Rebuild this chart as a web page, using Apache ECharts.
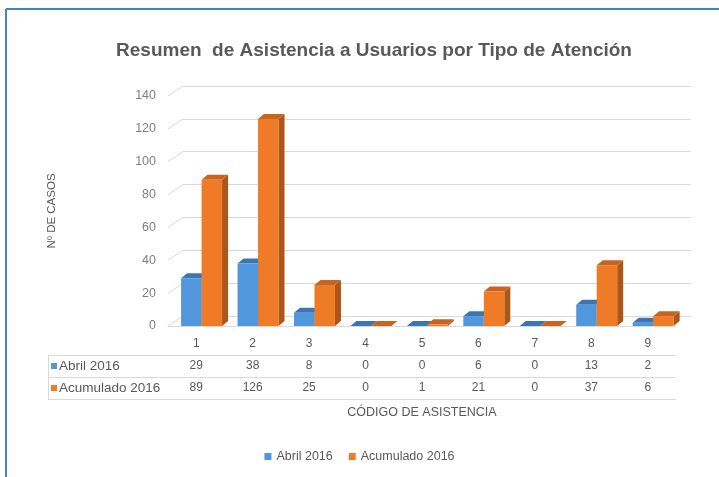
<!DOCTYPE html>
<html>
<head>
<meta charset="utf-8">
<script src="https://cdn.jsdelivr.net/npm/echarts@6/dist/echarts.min.js"></script>
<style>
  html, body { margin: 0; padding: 0; background: #fff; }
  #chart { width: 719px; height: 477px; }
</style>
</head>
<body>
<div id="chart"></div>
<script>
// datos
const categorias = ['1', '2', '3', '4', '5', '6', '7', '8', '9'];
const abril2016 = [29, 38, 8, 0, 0, 6, 0, 13, 2];
const acumulado2016 = [89, 126, 25, 0, 1, 21, 0, 37, 6];
const ticksY = [0, 20, 40, 60, 80, 100, 120, 140];

const txt = '#595959';
const lineas = '#d9d9d9';
const font = 'Liberation Sans';

// layout
const gLeft = 168, gRightPx = 676, gTop = 96, gBottomPx = 326;
const depthX = 15, depthY = 10;      // pared del fondo
const barDx = 6, barDy = 5;          // profundidad de las barras
const rowH = 22;
const tableBottom = gBottomPx + 7 + rowH * 3;

const dom = document.getElementById('chart');
const myChart = echarts.init(dom);

function bar3d(serieIdx, front, top, side) {
  return function (params, api) {
    const i = api.value(0);
    const v = api.value(1);
    const base = api.coord([i, 0]);
    const tp = api.coord([i, v]);
    const band = api.size([1, 0])[0];
    const w = band * 0.363;
    const x0 = base[0] - band / 2 + band * 0.232 + serieIdx * w;
    const x1 = x0 + w;
    const y0 = base[1];
    const y1 = tp[1];
    return {
      type: 'group',
      children: [
        {
          type: 'polygon',
          shape: { points: [[x1, y0], [x1 + barDx, y0 - barDy], [x1 + barDx, y1 - barDy], [x1, y1]] },
          style: { fill: side }
        },
        {
          type: 'polygon',
          shape: { points: [[x0, y1], [x0 + barDx, y1 - barDy], [x1 + barDx, y1 - barDy], [x1, y1]] },
          style: { fill: top }
        },
        {
          type: 'rect',
          shape: { x: x0, y: y1, width: w, height: y0 - y1 },
          style: { fill: front }
        }
      ]
    };
  };
}

const option = {
  backgroundColor: '#fff',
  animation: false,
  title: {
    text: 'Resumen  de Asistencia a Usuarios por Tipo de Atención',
    left: 369,
    textAlign: 'center',
    top: 36,
    textStyle: { fontFamily: font, fontSize: 19, fontWeight: 'bold', color: txt }
  },
  legend: {
    bottom: 9,
    left: 'center',
    icon: 'rect',
    itemWidth: 7,
    itemHeight: 7,
    itemGap: 16,
    textStyle: { fontFamily: font, fontSize: 12.5, color: txt },
    data: ['Abril 2016', 'Acumulado 2016']
  },
  grid: [
    { left: gLeft, right: 719 - gRightPx, top: gTop, bottom: 477 - gBottomPx },
    { left: gLeft + depthX, right: 719 - gRightPx - depthX, top: gTop - depthY, bottom: 477 - gBottomPx + depthY }
  ],
  xAxis: [
    {
      type: 'category',
      gridIndex: 0,
      data: categorias,
      name: 'CÓDIGO DE ASISTENCIA',
      nameLocation: 'middle',
      nameGap: 80,
      nameTextStyle: { fontFamily: font, fontSize: 12.5, color: txt },
      axisLine: { lineStyle: { color: lineas } },
      axisTick: { length: tableBottom - gBottomPx, lineStyle: { color: lineas } },
      axisLabel: {
        margin: 7,
        formatter: (val, idx) => `{a|${val}}\n{a|${abril2016[idx]}}\n{a|${acumulado2016[idx]}}`,
        rich: { a: { fontFamily: font, fontSize: 12, color: txt, lineHeight: rowH } }
      }
    },
    {
      type: 'category',
      gridIndex: 1,
      data: categorias,
      show: false
    }
  ],
  yAxis: [
    {
      type: 'value',
      gridIndex: 0,
      min: 0,
      max: 140,
      interval: 20,
      name: 'Nº DE CASOS',
      nameLocation: 'middle',
      nameGap: 110,
      nameTextStyle: { fontFamily: font, fontSize: 11.5, color: txt },
      axisLine: { show: false },
      axisTick: { show: false },
      splitLine: { show: false },
      axisLabel: { fontFamily: font, fontSize: 12.5, color: '#7f7f7f', margin: 12, padding: [12, 0, 0, 0] }
    },
    {
      type: 'value',
      gridIndex: 1,
      min: 0,
      max: 140,
      interval: 20,
      axisLine: { show: false },
      axisTick: { show: false },
      axisLabel: { show: false },
      splitLine: { lineStyle: { color: lineas } }
    }
  ],
  series: [
    {
      // lineas de la pared lateral
      type: 'custom',
      xAxisIndex: 0,
      yAxisIndex: 0,
      silent: true,
      data: ticksY.map(v => [0, v]),
      renderItem: (params, api) => {
        const p = api.coord([0, api.value(1)]);
        const band = api.size([1, 0])[0];
        const x = p[0] - band / 2;
        return {
          type: 'line',
          shape: { x1: x, y1: p[1], x2: x + depthX, y2: p[1] - depthY },
          style: { stroke: lineas, lineWidth: 1 }
        };
      }
    },
    {
      name: 'Abril 2016',
      type: 'custom',
      xAxisIndex: 0,
      yAxisIndex: 0,
      itemStyle: { color: '#5097dc' },
      data: abril2016.map((v, i) => [i, v]),
      renderItem: bar3d(0, '#5097dc', '#3c75b3', '#3a6fa8')
    },
    {
      name: 'Acumulado 2016',
      type: 'custom',
      xAxisIndex: 0,
      yAxisIndex: 0,
      itemStyle: { color: '#ef7b26' },
      data: acumulado2016.map((v, i) => [i, v]),
      renderItem: bar3d(1, '#ef7b26', '#c8641e', '#ad561a')
    }
  ],
  graphic: [
    // marco
    { type: 'line', shape: { x1: 6, y1: 9, x2: 719, y2: 9 }, style: { stroke: '#4a7fc9', lineWidth: 2 } },
    { type: 'line', shape: { x1: 6, y1: 9, x2: 6, y2: 477 }, style: { stroke: '#4a7fc9', lineWidth: 2 } },
    // tabla de datos
    { type: 'line', shape: { x1: 48, y1: gBottomPx + 7 + rowH + 0.5, x2: gRightPx, y2: gBottomPx + 7 + rowH + 0.5 }, style: { stroke: lineas } },
    { type: 'line', shape: { x1: 48, y1: gBottomPx + 7 + rowH * 2 + 0.5, x2: gRightPx, y2: gBottomPx + 7 + rowH * 2 + 0.5 }, style: { stroke: lineas } },
    { type: 'line', shape: { x1: 48, y1: tableBottom + 0.5, x2: gRightPx, y2: tableBottom + 0.5 }, style: { stroke: lineas } },
    { type: 'line', shape: { x1: 48.5, y1: gBottomPx + 7 + rowH, x2: 48.5, y2: tableBottom }, style: { stroke: lineas } },
    { type: 'rect', shape: { x: 51, y: gBottomPx + 7 + rowH * 1.5 - 3, width: 6, height: 6 }, style: { fill: '#5097dc' } },
    { type: 'text', x: 59, y: gBottomPx + 7 + rowH * 1.5, style: { text: 'Abril 2016', fill: txt, font: '13.5px "Liberation Sans"', verticalAlign: 'middle' } },
    { type: 'rect', shape: { x: 51, y: gBottomPx + 7 + rowH * 2.5 - 3, width: 6, height: 6 }, style: { fill: '#ef7b26' } },
    { type: 'text', x: 59, y: gBottomPx + 7 + rowH * 2.5, style: { text: 'Acumulado 2016', fill: txt, font: '13.5px "Liberation Sans"', verticalAlign: 'middle' } }
  ]
};

myChart.setOption(option);
</script>
</body>
</html>
